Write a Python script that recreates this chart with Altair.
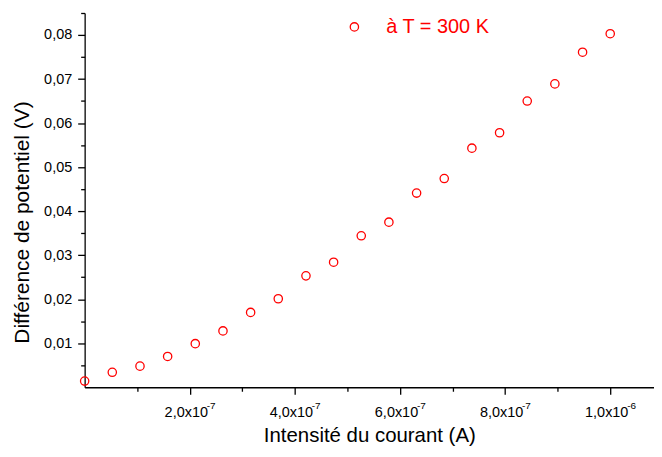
import altair as alt
import pandas as pd

# ---- data ----
current_A = [0.0, 5.26e-8, 1.053e-7, 1.579e-7, 2.105e-7, 2.632e-7, 3.158e-7, 3.684e-7,
             4.211e-7, 4.737e-7, 5.263e-7, 5.789e-7, 6.316e-7, 6.842e-7, 7.368e-7,
             7.895e-7, 8.421e-7, 8.947e-7, 9.474e-7, 1.0e-6]
voltage_V = [0.0014, 0.0034, 0.0048, 0.0070, 0.0099, 0.0128, 0.0170, 0.0201,
             0.0253, 0.0284, 0.0344, 0.0375, 0.0441, 0.0474, 0.0543, 0.0578,
             0.0650, 0.0689, 0.0761, 0.0803]
series_name = "à T = 300 K"

x_major_ticks = [2e-7, 4e-7, 6e-7, 8e-7, 1e-6]
x_minor_ticks = [1e-7, 3e-7, 5e-7, 7e-7, 9e-7]
x_tick_base = ["2,0x10", "4,0x10", "6,0x10", "8,0x10", "1,0x10"]
x_tick_exp = ["-7", "-7", "-7", "-7", "-6"]

y_major_ticks = [0.01, 0.02, 0.03, 0.04, 0.05, 0.06, 0.07, 0.08]
y_minor_ticks = [0.005, 0.015, 0.025, 0.035, 0.045, 0.055, 0.065, 0.075, 0.085]

x_domain = [0, 1.0833e-6]
y_domain = [0, 0.085]

points = pd.DataFrame({"I": current_A, "U": voltage_V, "s": [series_name] * len(current_A)})
exps = pd.DataFrame({"I": x_major_ticks, "e": x_tick_exp})

FONT = "Liberation Sans"
W, H = 572, 376

x_key = "round(datum.value*1e7)"
x_label_expr = " : ".join(
    f"{x_key} == {round(v * 1e7)} ? '{b}'" for v, b in zip(x_major_ticks, x_tick_base)
) + " : ''"
y_label_expr = ("round(datum.value*200) % 2 == 0 ? "
                "replace(format(datum.value, '.2f'), '.', ',') : ''")

x_scale = alt.Scale(domain=x_domain, nice=False, zero=False)
y_scale = alt.Scale(domain=y_domain, nice=False, zero=False)

x_axis = alt.Axis(
    title="Intensité du courant (A)",
    values=sorted(x_major_ticks + x_minor_ticks),
    labelExpr=x_label_expr,
    tickSize={"condition": {"test": "round(datum.value*1e7) % 2 == 0", "value": 7}, "value": 4},
    labelFontSize=14.5, labelPadding=11, labelOffset=-4, labelOverlap=False, labelFlush=False,
    labelColor="black", labelFont=FONT,
    titleFontSize=20.5, titleFont=FONT, titleFontWeight="normal", titleColor="black",
    titlePadding=7,
    grid=False, domainColor="black", tickColor="black", domainWidth=1.3, tickWidth=1.3,
)
y_axis = alt.Axis(
    title="Différence de potentiel (V)",
    values=sorted(y_major_ticks + y_minor_ticks),
    labelExpr=y_label_expr,
    tickSize={"condition": {"test": "round(datum.value*200) % 2 == 0", "value": 7}, "value": 4},
    labelFontSize=14.5, labelPadding=6, labelOverlap=False, labelFlush=False,
    labelColor="black", labelFont=FONT,
    titleFontSize=21, titleFont=FONT, titleFontWeight="normal", titleColor="black",
    titlePadding=11, titleY=210,
    grid=False, domainColor="black", tickColor="black", domainWidth=1.3, tickWidth=1.3,
)

x_enc = alt.X("I:Q", scale=x_scale, axis=x_axis)

scatter = alt.Chart(points).mark_point(
    shape="circle", filled=False, size=70, strokeWidth=1.3, opacity=1
).encode(
    x=x_enc,
    y=alt.Y("U:Q", scale=y_scale, axis=y_axis),
    color=alt.Color(
        "s:N",
        scale=alt.Scale(domain=[series_name], range=["#ff0000"]),
        legend=alt.Legend(
            title=None, orient="none", legendX=261, legendY=4,
            symbolType="circle", symbolSize=70, symbolStrokeWidth=1.3, symbolFillColor="white",
            labelFontSize=20, labelFont=FONT, labelColor="#ff0000", labelOffset=22,
            labelLimit=400, padding=0,
        ),
    ),
)

exponents = alt.Chart(exps).mark_text(
    align="left", baseline="alphabetic", dx=17, fontSize=10, font=FONT, color="black"
).encode(
    x=x_enc,
    y=alt.value(H + 22),
    text="e:N",
)

chart = alt.layer(scatter, exponents).properties(
    width=W, height=H,
    autosize=alt.AutoSizeParams(type="none"),
    padding={"left": 77, "top": 4, "right": 0, "bottom": 60},
    background="white",
).configure_view(stroke=None)

chart.save("out.html", embed_options={"renderer": "svg", "actions": False})
